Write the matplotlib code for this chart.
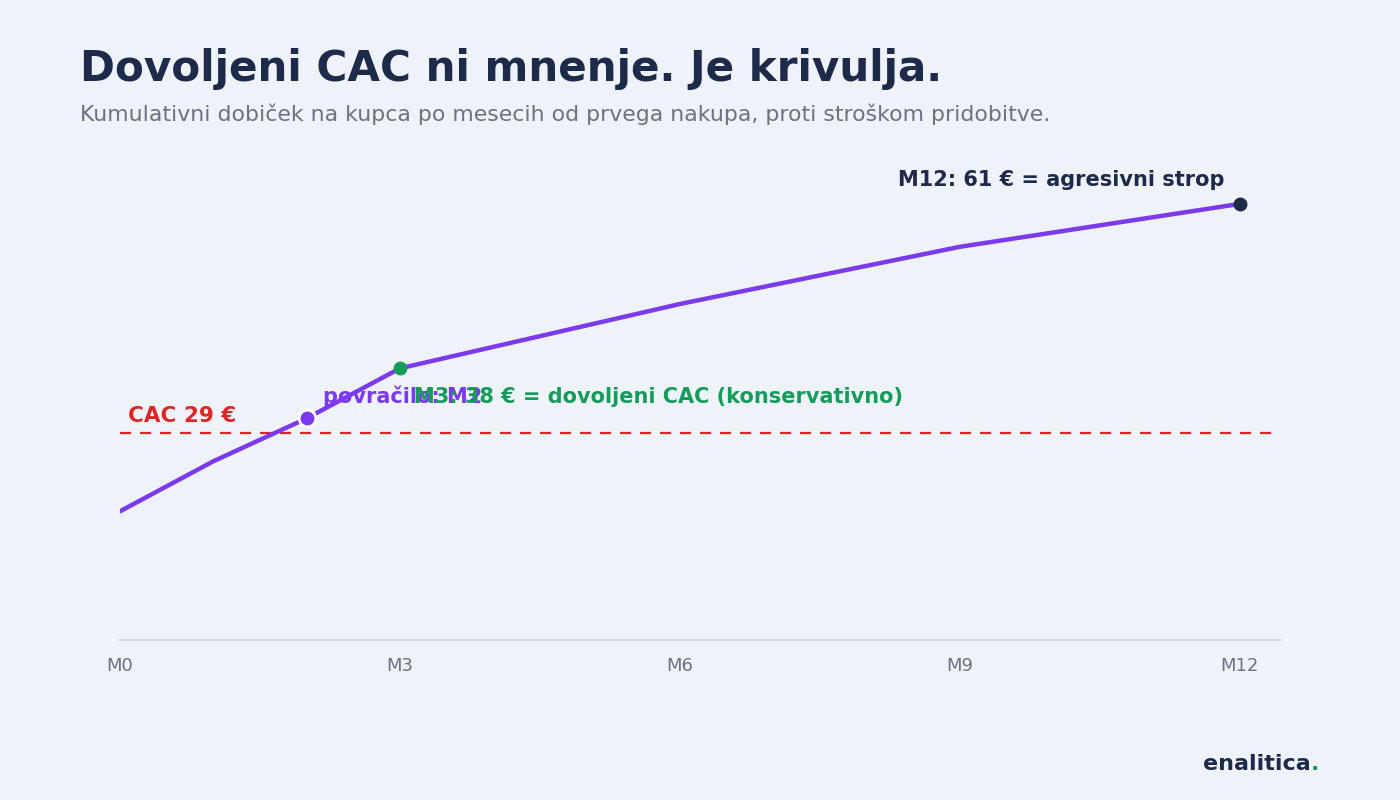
import matplotlib.pyplot as plt

months = [0, 1, 2, 3, 6, 9, 12]
profit = [18, 25, 31, 38, 47, 55, 61]
tick_pos = [0, 3, 6, 9, 12]
tick_labels = ["M0", "M3", "M6", "M9", "M12"]
cac = 29

bg = "#eef2f9"
navy = "#1e2a4a"
gray = "#6b7280"
purple = "#7c3aed"
red = "#dc2626"
green = "#169b5a"

plt.rcParams['font.family'] = ['DejaVu Sans']

fig = plt.figure(figsize=(14, 8), dpi=100, facecolor=bg)
ax = fig.add_axes([120/1400, 160/800, 1160/1400, 479/800])
ax.set_facecolor(bg)

ax.plot(months, profit, color=purple, lw=3.2, solid_capstyle='round', zorder=3)
ax.axhline(cac, color=red, lw=1.6, ls=(0, (5, 4)), zorder=2)

# oznake točk
ax.plot(months[2], profit[2], 'o', ms=12, color=purple, mec='white', mew=2, zorder=4)
ax.plot(months[3], profit[3], 'o', ms=9, color=green, zorder=4)
ax.plot(months[-1], profit[-1], 'o', ms=9, color=navy, zorder=4)

ax.annotate("CAC 29 €", (0, cac), xytext=(6, 8), textcoords='offset points',
            color=red, fontsize=15.5, fontweight='bold', va='baseline')
ax.annotate("povračilo: M2", (months[2], profit[2]), xytext=(12, 11), textcoords='offset points',
            color=purple, fontsize=15, fontweight='bold', va='baseline')
ax.annotate("M3: 38 € = dovoljeni CAC (konservativno)", (months[3], profit[3]), xytext=(10, -25),
            textcoords='offset points', color=green, fontsize=15, fontweight='bold', va='baseline')
ax.annotate("M12: 61 € = agresivni strop", (months[-1], profit[-1]), xytext=(-11, 13),
            textcoords='offset points', color=navy, fontsize=15, fontweight='bold',
            ha='right', va='baseline')

ax.set_xlim(0, 12.43)
ax.set_ylim(0, 67)
ax.set_xticks(tick_pos)
ax.set_xticklabels(tick_labels, color=gray, fontsize=13)
ax.set_yticks([])
ax.tick_params(axis='x', length=0, pad=12)
for s in ['top', 'right', 'left']:
    ax.spines[s].set_visible(False)
ax.spines['bottom'].set_color('#cfd4dc')
ax.spines['bottom'].set_linewidth(1.2)

fig.text(80/1400, 1-81/800, "Dovoljeni CAC ni mnenje. Je krivulja.", color=navy,
         fontsize=30.3, fontweight='bold', va='baseline')
fig.text(80/1400, 1-121/800, "Kumulativni dobiček na kupca po mesecih od prvega nakupa, proti stroškom pridobitve.",
         color=gray, fontsize=15.8, va='baseline')

fig.text(1311/1400, 1-770/800, "enalitica", color=navy, fontsize=16,
         fontweight='bold', ha='right', va='baseline')
fig.text(1311/1400, 1-770/800, ".", color=green, fontsize=16, fontweight='bold',
         ha='left', va='baseline')

fig.savefig("out.png", dpi=100, facecolor=bg)
